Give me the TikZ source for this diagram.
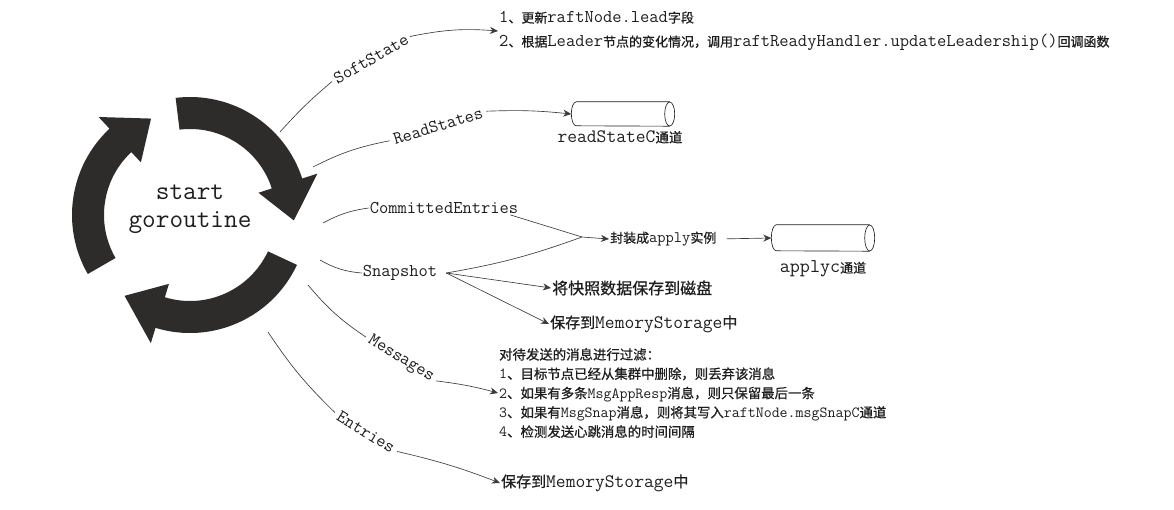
\documentclass[tikz,border=0pt]{standalone}
\usepackage{fontspec}
\newfontfamily\cjk[FakeBold=0.8]{Noto Sans CJK SC}
\newcommand\zhsz{13}
\newcommand\zh[1]{{\fontsize{\zhsz}{\zhsz}\selectfont\cjk #1}}
\usetikzlibrary{arrows.meta}
\definecolor{ringgray}{RGB}{46,43,43}
\definecolor{inkgray}{RGB}{30,30,30}
\definecolor{linegray}{RGB}{60,60,60}
% one of the three thick arrows of the loop: start, head base, tip (degrees)
\newcommand\ringarrow[3]{%
  \fill[ringgray] (#1:118pt) arc[start angle=#1, end angle=#2, radius=118pt]
    -- (#2:134pt) -- (#3:104pt) -- (#2:72pt) -- (#2:86pt)
    arc[start angle=#2, end angle=#1, radius=86pt] -- cycle;}
% outline of a channel pipe round a named node: node, half height
\newcommand\chanpipe[2]{%
  \draw[inkgray, line width=0.65pt] ([xshift=-5pt]#1.north east) -- ([xshift=5pt]#1.north west)
    arc[start angle=90, end angle=270, x radius=5pt, y radius=#2pt] -- ([xshift=-5pt]#1.south east);
  \draw[inkgray, line width=0.65pt] ([xshift=-5pt]#1.east) ellipse[x radius=5pt, y radius=#2pt];}
\begin{document}
\begin{tikzpicture}[x=1pt, y=-1pt, >={Stealth[length=8pt,width=7pt,inset=2.5pt]},
  lbl/.style={font=\fontsize{18}{20}\selectfont\ttfamily, text=inkgray, inner sep=1pt},
  conn/.style={draw=linegray, line width=0.65pt},
  txt/.style={anchor=west, text=inkgray, inner sep=1pt},
  chan/.style={minimum width=103pt, minimum height=24pt, inner sep=0pt}]
\useasboundingbox (0,0) rectangle (1174,509);

% loop in the middle
\begin{scope}[shift={(190,215)}]
\ringarrow{210}{133}{112}
\ringarrow{97}{18}{-3}
\ringarrow{-25}{-107}{-129}
\end{scope}
\node[align=center, text=inkgray, font=\fontsize{26.5}{28}\selectfont\ttfamily] (sg) at (190,209) {start\\goroutine};

% where the curves leave the loop
\coordinate (c1) at (280,132);
\coordinate (c2) at (313,167);
\coordinate (c3) at (323,223);
\coordinate (c4) at (320,260);
\coordinate (c5) at (308,285);
\coordinate (c6) at (268,332);

% SoftState
\node[txt, align=left, font=\fontsize{18}{24}\selectfont\ttfamily] (soft) at (498,31)
  {1\zh{、更新}raftNode.lead\zh{字段}\\
   2\zh{、根据}Leader\zh{节点的变化情况，调用}raftReadyHandler.updateLeadership()\zh{回调函数}};
\node[lbl, rotate=30, inner sep=3pt] (sst) at (371,59) {SoftState};
\draw[conn] (c1) to[bend left=4] (sst.west);
\draw[conn,->] (sst.east) to[bend left=8] (soft.west);

% ReadStates
\node[chan] (rsc) at (623,114) {};
\chanpipe{rsc}{12}
\node[lbl, font=\fontsize{19}{20}\selectfont\ttfamily\def\zhsz{13.5}] (rsl) at (620,137) {readStateC\zh{通道}};
\node[lbl, rotate=17, inner sep=4pt] (rst) at (438,126) {ReadStates};
\draw[conn] (c2) to[bend left=8] (rst.west);
\draw[conn,->] (rst.east) to[bend left=4] (rsc.west);

% CommittedEntries and Snapshot
\node[lbl] (ce) at (444,208) {CommittedEntries};
\node[lbl] (sn) at (400,273) {Snapshot};
\coordinate (fan) at ([xshift=8pt]sn.east);
\coordinate (mg) at (582,237);
\node[txt, font=\fontsize{16}{18}\selectfont\ttfamily] (apl) at (609,239) {\zh{封装成}apply\zh{实例}};
\node[chan, minimum height=26pt] (apc) at (823,238) {};
\chanpipe{apc}{13}
\node[lbl, font=\fontsize{19.5}{20}\selectfont\ttfamily] (apcl) at (823,269) {applyc\zh{通道}};
\node[txt, font=\fontsize{16}{18}\selectfont\def\zhsz{16}] (disk) at (551,288) {\zh{将快照数据保存到磁盘}};
\node[txt, font=\fontsize{19}{22}\selectfont\ttfamily\def\zhsz{15}] (mem1) at (549,324) {\zh{保存到}MemoryStorage\zh{中}};
\draw[conn] (c3) to[bend left=10] (ce.west);
\draw[conn] ([xshift=-9pt]ce.south east) -- (mg);
\draw[conn] (c4) to[bend right=12] (sn.west);
\draw[conn] (fan) to[bend right=5] (mg);
\draw[conn,->] (mg) -- (apl.west);
\draw[conn,->, shorten <=9pt] (apl.east) -- (apc.west);
\draw[conn,->] (fan) -- (disk.west);
\draw[conn,->] (fan) -- (mem1.west);

% Messages
\node[txt, align=left, font=\fontsize{15.5}{19.3}\selectfont\ttfamily\def\zhsz{13.4}] (msg) at (498,393)
  {\zh{对待发送的消息进行过滤：}\\
   1\zh{、目标节点已经从集群中删除，则丢弃该消息}\\
   2\zh{、如果有多条}MsgAppResp\zh{消息，则只保留最后一条}\\
   3\zh{、如果有}MsgSnap\zh{消息，则将其写入}raftNode.msgSnapC\zh{通道}\\
   4\zh{、检测发送心跳消息的时间间隔}};
\node[lbl, rotate=-32, inner sep=4pt] (mst) at (401,359) {Messages};
\draw[conn] (c5) to[bend right=8] (mst.west);
\draw[conn,->] (mst.east) to[bend left=4] (msg.west);

% Entries
\node[txt, font=\fontsize{19}{22}\selectfont\ttfamily\def\zhsz{15}] (mem2) at (500,483) {\zh{保存到}MemoryStorage\zh{中}};
\node[lbl, rotate=-32, inner sep=4pt] (ent) at (366,432) {Entries};
\draw[conn] (c6) to[bend right=6] (ent.west);
\draw[conn,->] (ent.east) to[bend left=4] (mem2.west);
\end{tikzpicture}
\end{document}
